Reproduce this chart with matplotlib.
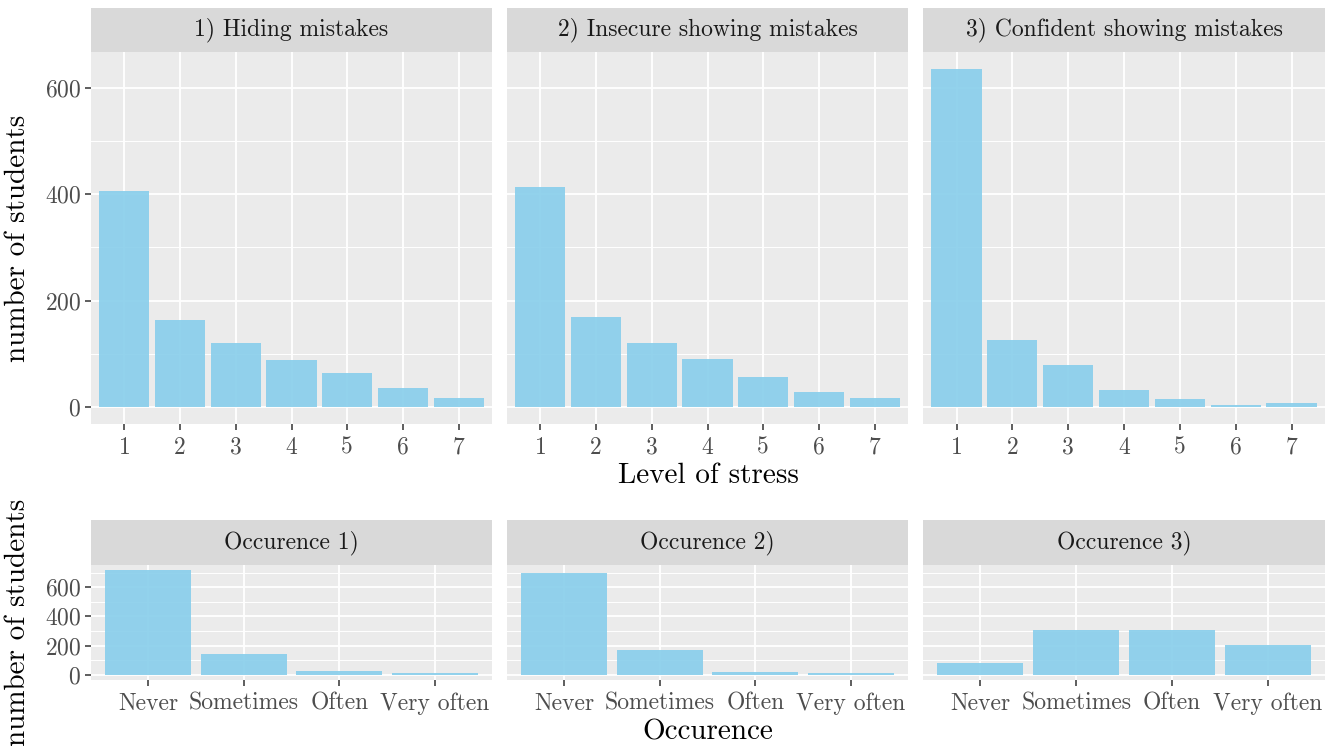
import numpy as np
import matplotlib
matplotlib.use('Agg')
import matplotlib.pyplot as plt

plt.rcParams['font.family'] = 'cmr10'
plt.rcParams['axes.formatter.use_mathtext'] = True
plt.rcParams['axes.unicode_minus'] = False

stress_levels = ['1', '2', '3', '4', '5', '6', '7']
stress_titles = ['1) Hiding mistakes', '2) Insecure showing mistakes', '3) Confident showing mistakes']
stress_counts = [
    [406, 163, 120, 89, 64, 36, 17],
    [413, 169, 121, 90, 57, 28, 17],
    [635, 126, 79, 32, 16, 4, 7],
]

occ_levels = ['Never', 'Sometimes', 'Often', 'Very often']
occ_titles = ['Occurence 1)', 'Occurence 2)', 'Occurence 3)']
occ_counts = [
    [716, 143, 25, 10],
    [695, 170, 18, 12],
    [80, 307, 307, 202],
]

W, H = 1327, 746
PANEL_BG = '#EBEBEB'
STRIP_BG = '#D9D9D9'
BAR = 'skyblue'
TICK_TXT = '#4D4D4D'


def box(x0, x1, ytop, ybot):
    return [x0 / W, 1 - ybot / H, (x1 - x0) / W, (ybot - ytop) / H]


def style_panel(ax, major, minor, show_y):
    ax.set_facecolor(PANEL_BG)
    for s in ax.spines.values():
        s.set_visible(False)
    ax.set_yticks(major)
    ax.set_yticks(minor, minor=True)
    ax.grid(True, which='major', color='white', linewidth=1.3)
    ax.grid(True, which='minor', axis='y', color='white', linewidth=0.7)
    ax.set_axisbelow(True)
    ax.tick_params(axis='both', which='major', color='#333333', length=4, width=1.1,
                   labelsize=17, labelcolor=TICK_TXT, pad=3)
    ax.tick_params(axis='x', which='major', pad=5)
    ax.tick_params(axis='both', which='minor', length=0)
    if not show_y:
        ax.tick_params(axis='y', which='major', length=0, labelleft=False)


def strip(fig, x0, x1, ytop, ybot, title):
    sax = fig.add_axes(box(x0, x1, ytop, ybot))
    sax.set_facecolor(STRIP_BG)
    sax.set_xticks([])
    sax.set_yticks([])
    for s in sax.spines.values():
        s.set_visible(False)
    sax.text(0.5, 0.5, title, ha='center', va='center', fontsize=17, color='#1A1A1A',
             transform=sax.transAxes)


fig = plt.figure(figsize=(W / 100, H / 100), dpi=100)
cols = [(91, 492), (507, 908), (923, 1325)]

# top row: level of stress
ymax_top = max(max(c) for c in stress_counts)
for i, (x0, x1) in enumerate(cols):
    ax = fig.add_axes(box(x0, x1, 52, 424))
    xs = np.arange(1, len(stress_levels) + 1)
    ax.bar(xs, stress_counts[i], width=0.9, color=BAR, alpha=0.9, zorder=3)
    ax.set_xlim(0.4, len(stress_levels) + 0.6)
    ax.set_ylim(-0.05 * ymax_top, 1.05 * ymax_top)
    ax.set_xticks(xs)
    ax.set_xticklabels(stress_levels)
    style_panel(ax, [0, 200, 400, 600], [100, 300, 500], i == 0)
    strip(fig, x0, x1, 8, 52, stress_titles[i])

# bottom row: occurence
ymax_bot = max(max(c) for c in occ_counts)
for i, (x0, x1) in enumerate(cols):
    ax = fig.add_axes(box(x0, x1, 565, 680))
    xs = np.arange(1, len(occ_levels) + 1)
    ax.bar(xs, occ_counts[i], width=0.9, color=BAR, alpha=0.9, zorder=3)
    ax.set_xlim(0.4, len(occ_levels) + 0.6)
    ax.set_ylim(-0.05 * ymax_bot, 1.05 * ymax_bot)
    ax.set_xticks(xs)
    ax.set_xticklabels(occ_levels)
    style_panel(ax, [0, 200, 400, 600], [100, 300, 500, 700], i == 0)
    strip(fig, x0, x1, 520, 565, occ_titles[i])

fig.text(708 / W, 1 - 476 / H, 'Level of stress', ha='center', va='center', fontsize=21)
fig.text(708 / W, 1 - 732 / H, 'Occurence', ha='center', va='center', fontsize=21)
fig.text(18 / W, 1 - 238 / H, 'number of students', ha='center', va='center',
         rotation=90, fontsize=21)
fig.text(18 / W, 1 - 622 / H, 'number of students', ha='center', va='center',
         rotation=90, fontsize=21)

fig.savefig('out.png', dpi=100)
